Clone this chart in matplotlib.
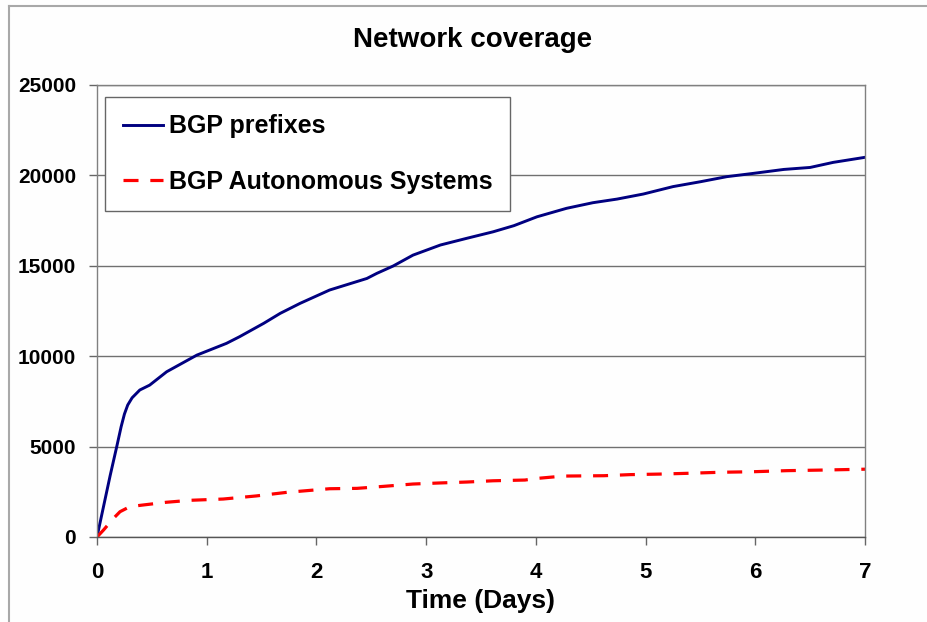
"""Network coverage chart: BGP prefixes vs autonomous systems over a week."""
import matplotlib
matplotlib.use("Agg")
import matplotlib.pyplot as plt
from matplotlib.lines import Line2D

# ---- data ----
pfx_days = [0, 0.06, 0.12, 0.18, 0.22, 0.25, 0.28, 0.32, 0.39, 0.48, 0.635,
            0.91, 1.18, 1.30, 1.52, 1.67, 1.85, 2.12, 2.46, 2.55, 2.70, 2.88,
            3.13, 3.37, 3.61, 3.80, 4.01, 4.28, 4.52, 4.74, 4.98, 5.25, 5.50,
            5.74, 5.98, 6.26, 6.50, 6.71, 7.0]
pfx_count = [0, 1700, 3400, 5000, 6100, 6800, 7300, 7700, 8130, 8400, 9140,
             10060, 10710, 11080, 11820, 12370, 12920, 13660, 14300, 14580,
             14990, 15590, 16150, 16520, 16880, 17220, 17710, 18180, 18490,
             18690, 18970, 19380, 19650, 19930, 20110, 20330, 20440, 20720,
             21000]

as_days = [0, 0.06, 0.15, 0.21, 0.30, 0.42, 0.63, 0.85, 1.15, 1.45, 1.73,
           2.12, 2.37, 2.61, 2.88, 3.13, 3.37, 3.61, 3.90, 4.01, 4.25, 4.62,
           4.86, 5.13, 5.37, 5.68, 5.98, 6.29, 6.59, 7.0]
as_count = [0, 390, 1030, 1400, 1680, 1770, 1920, 2030, 2100, 2270, 2470,
            2670, 2690, 2800, 2930, 2990, 3040, 3110, 3150, 3240, 3370, 3390,
            3450, 3480, 3520, 3580, 3610, 3670, 3700, 3750]

x_ticks = list(range(0, 8))
y_ticks = [0, 5000, 10000, 15000, 20000, 25000]

NAVY = "#000080"
RED = "#ff0000"
GRIDC = "#707070"

plt.rcParams.update({
    "font.family": ["Liberation Sans", "DejaVu Sans"],
    "font.weight": "bold",
})

fig = plt.figure(figsize=(9.27, 6.22), dpi=100, facecolor="#fefefe")
ax = fig.add_axes([97 / 927, 85 / 622, 768 / 927, 452 / 622])
ax.set_facecolor("#fefefe")

ax.plot(pfx_days, pfx_count, color=NAVY, lw=2.1, label="BGP prefixes",
        solid_joinstyle="round")
ax.plot(as_days, as_count, color=RED, lw=2.3, dashes=(4.7, 3.7),
        label="BGP Autonomous Systems")

ax.set_xlim(0, 7)
ax.set_ylim(0, 25000)
ax.set_xticks(x_ticks)
ax.set_yticks(y_ticks)
ax.grid(axis="y", color=GRIDC, lw=1.0)
ax.set_axisbelow(True)
for s in ("left", "bottom", "right", "top"):
    ax.spines[s].set_color("#808080")
    ax.spines[s].set_linewidth(1.0)
ax.spines["bottom"].set_color("#555555")
ax.tick_params(axis="both", direction="out", length=6, width=1,
               color="#666666")
ax.tick_params(axis="y", pad=9, labelsize=15)
ax.tick_params(axis="x", pad=12, labelsize=16)
for t in ax.get_xticklabels() + ax.get_yticklabels():
    t.set_fontweight("bold")

ax.set_xlabel("Time (Days)", fontsize=19, fontweight="bold", labelpad=4)
fig.text(473 / 927, 1 - 40 / 622, "Network coverage", fontsize=20,
         fontweight="bold", ha="center", va="center")

leg = ax.legend(loc="upper left", bbox_to_anchor=(8 / 768, 1 - 12 / 452),
                borderaxespad=0, frameon=True, fancybox=False,
                edgecolor="#666666", framealpha=1, handlelength=1.6,
                handletextpad=0.25, labelspacing=1.25, borderpad=0.7,
                prop={"weight": "bold", "size": 18})
leg.get_frame().set_linewidth(1.0)

# outer chart frame (only left and top edges fall inside the picture)
fig.add_artist(Line2D([9 / 927, 9 / 927], [0, 1 - 6 / 622],
                      transform=fig.transFigure, color="#a8a8a8", lw=1.5))
fig.add_artist(Line2D([9 / 927, 1], [1 - 6 / 622, 1 - 6 / 622],
                      transform=fig.transFigure, color="#a8a8a8", lw=1.5))

fig.savefig("out.png", dpi=100, facecolor=fig.get_facecolor())
